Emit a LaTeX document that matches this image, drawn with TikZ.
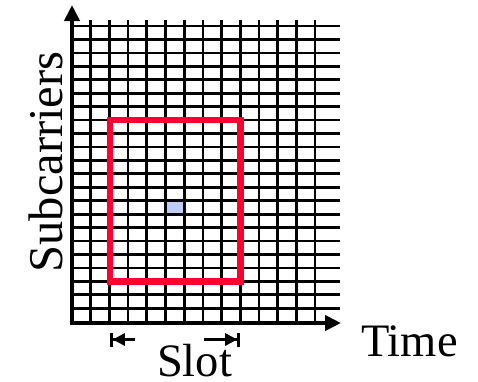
\documentclass[tikz,border=0pt]{standalone}
\usepackage{fontspec}
\setmainfont{Liberation Serif}
\usetikzlibrary{arrows.meta}
\definecolor{boxred}{RGB}{255,0,50}
\definecolor{cellblue}{RGB}{190,205,245}
\tikzset{
  gridline/.style={line width=2.7pt, black},
  axisline/.style={line width=4.5pt, black, -{Triangle[length=16pt,width=15pt]}},
  slotbox/.style={line width=6.7pt, boxred},
  slotarrow/.style={line width=2.8pt, black, -{Triangle[length=12pt,width=12pt]Bar[width=14pt,line width=2.8pt]}},
  label/.style={inner sep=0pt, font=\fontsize{46.5}{50}\selectfont}
}
\begin{document}
\begin{tikzpicture}[x=1pt,y=-1pt]
\useasboundingbox (0,0) rectangle (478,381);
% highlighted cell
\fill[cellblue] (165.5,200.7) rectangle (184.2,214);
% grid
\foreach \k in {0,...,21} {
  \draw[gridline] (72,{26+13.44*\k}) -- (340,{26+13.44*\k});
}
\foreach \k in {0,...,12} {
  \draw[gridline] ({90.7+18.7*\k},323) -- ({90.7+18.7*\k},20);
}
% axes
\coordinate (origin) at (72,323);
\coordinate (ytop) at (72,5);
\coordinate (xend) at (341,323);
\draw[axisline] (origin) -- (ytop);
\draw[axisline] ([xshift=-2.25pt]origin) -- (xend);
% slot box
\node[inner sep=0pt] (boxnw) at (110,120) {};
\node[inner sep=0pt] (boxse) at (240.5,281.7) {};
\draw[slotbox] (boxnw.center) rectangle (boxse.center);
% slot arrows
\coordinate (la) at (135,339.5);
\coordinate (lb) at (110,339.5);
\coordinate (ra) at (204,339.5);
\coordinate (rb) at (240,339.5);
\draw[slotarrow] (la) -- (lb);
\draw[slotarrow] (ra) -- (rb);
% labels
\node[label, anchor=base] (slot) at (194.5,376.5) {Slot};
\node[label, anchor=base west] (time) at (361,356.7) {Time};
\node[label, anchor=base, rotate=90, font=\fontsize{48.5}{52}\selectfont] (sub) at (62,162) {Subcarriers};
\end{tikzpicture}
\end{document}
